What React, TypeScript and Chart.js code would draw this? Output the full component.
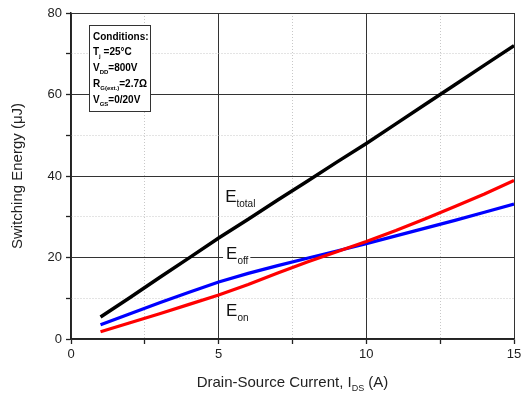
import React, { useEffect, useRef } from 'react';
import { Chart, registerables } from 'chart.js';

Chart.register(...registerables);

// ---- data ----
const currentA = [1, 2, 3, 4, 5, 6, 7, 8, 9, 10, 11, 12, 13, 14, 15];
const eTotal = [5.4, 10.2, 15.1, 19.9, 24.8, 29.4, 34.1, 38.7, 43.4, 48.0, 52.8, 57.6, 62.4, 67.2, 72.0];
const eOff = [3.5, 6.2, 8.9, 11.5, 14.0, 16.1, 18.0, 19.8, 21.6, 23.4, 25.3, 27.2, 29.1, 31.1, 33.1];
const eOn = [1.8, 4.0, 6.2, 8.5, 10.8, 13.4, 16.2, 18.9, 21.4, 23.9, 26.6, 29.5, 32.5, 35.6, 38.9];
const xMajorTicks = [0, 5, 10, 15];
const yMajorTicks = [0, 20, 40, 60, 80];

const FONT = "'Liberation Sans', Arial, Helvetica, sans-serif";

type Part = { t: string; size: number; sub?: boolean; bold?: boolean };

function richWidth(ctx: CanvasRenderingContext2D, parts: Part[]) {
  let w = 0;
  for (const p of parts) {
    ctx.font = `${p.bold ? 'bold ' : ''}${p.size}px ${FONT}`;
    w += ctx.measureText(p.t).width;
  }
  return w;
}

function drawRich(ctx: CanvasRenderingContext2D, x: number, y: number, parts: Part[], subDrop: number) {
  let cx = x;
  ctx.textAlign = 'left';
  ctx.textBaseline = 'alphabetic';
  for (const p of parts) {
    ctx.font = `${p.bold ? 'bold ' : ''}${p.size}px ${FONT}`;
    ctx.fillText(p.t, cx, p.sub ? y + subDrop : y);
    cx += ctx.measureText(p.t).width;
  }
  return cx;
}

const annotationPlugin = {
  id: 'annotationPlugin',
  afterDraw(chart: any) {
    const ctx: CanvasRenderingContext2D = chart.ctx;
    const xs = chart.scales.x;
    const ys = chart.scales.y;
    const ca = chart.chartArea;
    ctx.save();
    ctx.fillStyle = '#222';

    // x axis title
    const xParts: Part[] = [
      { t: 'Drain-Source Current, I', size: 15 },
      { t: 'DS', size: 9, sub: true },
      { t: ' (A)', size: 15 },
    ];
    const xw = richWidth(ctx, xParts);
    drawRich(ctx, (ca.left + ca.right) / 2 - xw / 2, 387, xParts, 4);

    // y axis title
    ctx.save();
    ctx.translate(17.5, (ca.top + ca.bottom) / 2);
    ctx.rotate(-Math.PI / 2);
    ctx.font = `15px ${FONT}`;
    ctx.textAlign = 'center';
    ctx.textBaseline = 'middle';
    ctx.fillText('Switching Energy (\u03BCJ)', 0, 0);
    ctx.restore();

    // series labels
    const labels: { x: number; y: number; sub: string }[] = [
      { x: 5.22, y: 33.6, sub: 'total' },
      { x: 5.25, y: 19.6, sub: 'off' },
      { x: 5.25, y: 5.6, sub: 'on' },
    ];
    for (const l of labels) {
      const px = xs.getPixelForValue(l.x);
      const py = ys.getPixelForValue(l.y);
      const parts: Part[] = [
        { t: 'E', size: 17 },
        { t: l.sub, size: 10, sub: true },
      ];
      const w = richWidth(ctx, parts);
      ctx.fillStyle = '#fff';
      ctx.fillRect(px - 3, py - 14, w + 5, 21);
      ctx.fillStyle = '#111';
      drawRich(ctx, px, py, parts, 5);
    }

    // conditions box
    const bx = ca.left + 18;
    const by = ca.top + 12;
    const bw = 61;
    const bh = 86;
    ctx.fillStyle = '#fff';
    ctx.fillRect(bx, by, bw, bh);
    ctx.strokeStyle = '#333';
    ctx.lineWidth = 1;
    ctx.strokeRect(bx + 0.5, by + 0.5, bw, bh);
    ctx.fillStyle = '#000';
    const lines: Part[][] = [
      [{ t: 'Conditions:', size: 10, bold: true }],
      [{ t: 'T', size: 10, bold: true }, { t: 'j', size: 6, bold: true, sub: true }, { t: ' =25\u00B0C', size: 10, bold: true }],
      [{ t: 'V', size: 10, bold: true }, { t: 'DD', size: 6, bold: true, sub: true }, { t: '=800V', size: 10, bold: true }],
      [{ t: 'R', size: 10, bold: true }, { t: 'G(ext.)', size: 6, bold: true, sub: true }, { t: '=2.7\u03A9', size: 10, bold: true }],
      [{ t: 'V', size: 10, bold: true }, { t: 'GS', size: 6, bold: true, sub: true }, { t: '=0/20V', size: 10, bold: true }],
    ];
    lines.forEach((parts, i) => {
      drawRich(ctx, bx + 4, by + 14.5 + i * 15.8, parts, 3);
    });

    ctx.restore();
  },
};

const isMajor = (v: number, step: number) => Math.abs(v / step - Math.round(v / step)) < 1e-6;

export default function App() {
  const canvasRef = useRef<HTMLCanvasElement | null>(null);

  useEffect(() => {
    const canvas = canvasRef.current;
    if (!canvas) return;
    const mk = (arr: number[]) => currentA.map((x, i) => ({ x, y: arr[i] }));
    const chart = new Chart(canvas, {
      type: 'line',
      data: {
        datasets: [
          { label: 'Etotal', data: mk(eTotal), borderColor: '#000000', borderWidth: 3.5, pointRadius: 0, tension: 0, fill: false },
          { label: 'Eon', data: mk(eOn), borderColor: '#ff0000', borderWidth: 3.2, pointRadius: 0, tension: 0, fill: false },
          { label: 'Eoff', data: mk(eOff), borderColor: '#0000ff', borderWidth: 3.2, pointRadius: 0, tension: 0, fill: false },
        ],
      },
      options: {
        animation: false,
        responsive: false,
        devicePixelRatio: 1,
        layout: { padding: { top: 13, right: 7, left: 0, bottom: 0 } },
        plugins: {
          legend: { display: false },
          tooltip: { enabled: false },
          title: { display: false },
        },
        scales: {
          x: {
            type: 'linear',
            min: 0,
            max: 15,
            afterFit: (s: any) => { s.height = 57; s.paddingLeft = 0; s.paddingRight = 0; },
            ticks: {
              stepSize: 2.5,
              autoSkip: false,
              maxRotation: 0,
              padding: 3,
              color: '#222',
              font: { family: FONT, size: 13 },
              callback: (v: any) => {
                const n = Number(v);
                const m = xMajorTicks.find((t) => Math.abs(t - n) < 1e-6);
                return m !== undefined ? String(m) : '';
              },
            },
            grid: {
              color: (c: any) => (c.tick && !isMajor(c.tick.value, 5) ? '#c8c8c8' : '#333'),
              lineWidth: 1,
              tickLength: 5,
              tickColor: '#222',
              tickWidth: 1.3,
            } as any,
            border: {
              display: true,
              color: '#222',
              width: 1.5,
              dash: (c: any) => (c.tick && !isMajor(c.tick.value, 5) ? [1, 2] : []),
            } as any,
          },
          y: {
            type: 'linear',
            min: 0,
            max: 80,
            afterFit: (s: any) => { s.width = 71; s.paddingTop = 0; s.paddingBottom = 0; },
            ticks: {
              stepSize: 10,
              autoSkip: false,
              padding: 4,
              color: '#222',
              font: { family: FONT, size: 13 },
              callback: (v: any) => {
                const n = Number(v);
                const m = yMajorTicks.find((t) => Math.abs(t - n) < 1e-6);
                return m !== undefined ? String(m) : '';
              },
            },
            grid: {
              color: (c: any) => (c.tick && !isMajor(c.tick.value, 20) ? '#c8c8c8' : '#333'),
              lineWidth: 1,
              tickLength: 5,
              tickColor: '#222',
              tickWidth: 1.3,
            } as any,
            border: {
              display: true,
              color: '#222',
              width: 1.5,
              dash: (c: any) => (c.tick && !isMajor(c.tick.value, 20) ? [1, 2] : []),
            } as any,
          },
        },
      } as any,
      plugins: [annotationPlugin as any],
    });
    return () => chart.destroy();
  }, []);

  return (
    <div style={{ position: 'fixed', left: 0, top: 0, width: 521, height: 396, background: '#fff' }}>
      <canvas ref={canvasRef} width={521} height={396} style={{ width: 521, height: 396, display: 'block' }} />
    </div>
  );
}
